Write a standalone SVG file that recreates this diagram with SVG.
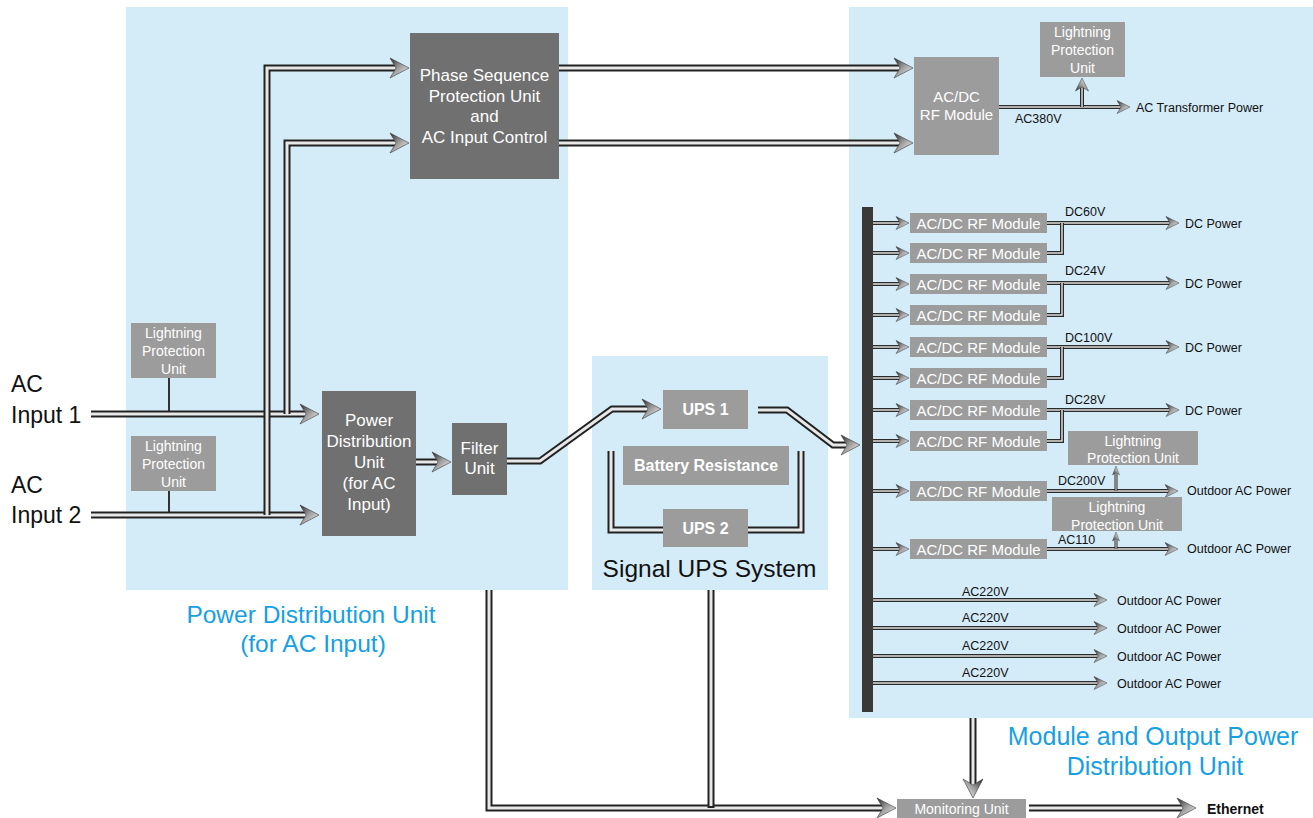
<svg xmlns="http://www.w3.org/2000/svg" width="1313" height="818" viewBox="0 0 1313 818">
<style>
.panel{fill:#d4ebf8}
.dk{fill:#707070}
.lt{fill:#9c9c9c}
text{font-family:"Liberation Sans",Arial,sans-serif}
.tw{fill:#fff;text-anchor:middle}
.tb{fill:#111}
.blue{fill:#16a0e3;text-anchor:middle;font-size:24.5px}
.pb{fill:none;stroke:#222;stroke-width:7}
.pw{fill:none;stroke:#e8e8e8;stroke-width:3}
.sb{fill:none;stroke:#2a2a2a;stroke-width:4}
.sw{fill:none;stroke:#dedede;stroke-width:1.5}
.xb{fill:none;stroke:#2a2a2a;stroke-width:3}
.xw{fill:none;stroke:#e0e0e0;stroke-width:1}
.ln{fill:none;stroke:#333;stroke-width:2}
.f14{font-size:14px}
.f15{font-size:15px}
.f17{font-size:17px}
.lab{font-size:12.5px;fill:#111}
</style>
<defs>
<linearGradient id="ag" x1="0" y1="0" x2="1" y2="1">
<stop offset="0" stop-color="#262626"/>
<stop offset="0.45" stop-color="#9a9a9a"/>
<stop offset="1" stop-color="#ffffff"/>
</linearGradient>
<marker id="ab" markerUnits="userSpaceOnUse" markerWidth="22" markerHeight="22" viewBox="-1 -11 22 22" refX="8" refY="0" orient="auto">
<path d="M0,-10 L19,0 L0,10 L6,0 Z" fill="url(#ag)" stroke="#3a3a3a" stroke-width="0.6"/>
</marker>
<marker id="as" markerUnits="userSpaceOnUse" markerWidth="16" markerHeight="16" viewBox="-1 -8 16 16" refX="6" refY="0" orient="auto">
<path d="M0,-6.5 L13,0 L0,6.5 L4,0 Z" fill="url(#ag)" stroke="#3a3a3a" stroke-width="0.5"/>
</marker>
<marker id="at" markerUnits="userSpaceOnUse" markerWidth="12" markerHeight="10" viewBox="-1 -5 12 10" refX="4" refY="0" orient="auto">
<path d="M0,-3.5 L9,0 L0,3.5 L2.5,0 Z" fill="url(#ag)" stroke="#3a3a3a" stroke-width="0.4"/>
</marker>
</defs>

<g id="panels">
<rect class="panel" x="126" y="7" width="442" height="583"/>
<rect class="panel" x="592" y="356" width="236" height="234"/>
<rect class="panel" x="849" y="7" width="464" height="711"/>
</g>

<g id="titles">
<text class="blue" x="311" y="623">Power Distribution Unit</text>
<text class="blue" x="313" y="652">(for AC Input)</text>
<text class="blue" x="1153" y="745" style="font-size:25px">Module and Output Power</text>
<text class="blue" x="1155" y="775" style="font-size:25px">Distribution Unit</text>
<text x="709.5" y="577" style="font-size:24.5px;text-anchor:middle" class="tb">Signal UPS System</text>
</g>

<g id="input1">
<text class="tb" x="11" y="392" style="font-size:23px">AC</text>
<text class="tb" x="11" y="423" style="font-size:23px">Input 1</text>
</g>
<g id="input2">
<text class="tb" x="11" y="493" style="font-size:23px">AC</text>
<text class="tb" x="11" y="523" style="font-size:23px">Input 2</text>
</g>

<g id="connectors">
<path class="ln" d="M169,378 V412"/>
<path class="ln" d="M169,491 V513"/>
<path class="pb" d="M91,414 H308"/><path class="pw" d="M91,414 H308" marker-end="url(#ab)"/>
<path class="pb" d="M91,515 H308"/><path class="pw" d="M91,515 H308" marker-end="url(#ab)"/>
<path class="pb" d="M267,515 V68 H398"/><path class="pw" d="M267,515 V68 H398" marker-end="url(#ab)"/>
<path class="pb" d="M287,414 V143 H398"/><path class="pw" d="M287,414 V143 H398" marker-end="url(#ab)"/>
<path class="pb" d="M559,68 H902"/><path class="pw" d="M559,68 H902" marker-end="url(#ab)"/>
<path class="pb" d="M559,143 H902"/><path class="pw" d="M559,143 H902" marker-end="url(#ab)"/>
<path class="pb" d="M416,462 H440"/><path class="pw" d="M416,462 H440" marker-end="url(#ab)"/>
<path class="pb" d="M507,461 H540 L612,409 H650"/><path class="pw" d="M507,461 H540 L612,409 H650" marker-end="url(#ab)"/>
<path class="pb" d="M758,410 H787 L833,445 H849"/><path class="pw" d="M758,410 H787 L833,445 H849" marker-end="url(#ab)"/>
<path class="pb" d="M611,451 V530 H663"/><path class="pw" d="M611,451 V530 H663"/>
<path class="pb" d="M748,530 H801 V451"/><path class="pw" d="M748,530 H801 V451"/>
<path class="pb" d="M489,590 V808 H885"/><path class="pw" d="M489,590 V808 H885" marker-end="url(#ab)"/>
<path class="pb" d="M711,590 V808"/><path class="pw" d="M711,590 V806"/>
<path class="pb" d="M973,718 V787"/><path class="pw" d="M973,718 V787" marker-end="url(#ab)"/>
<path class="pb" d="M1029,808 H1185"/><path class="pw" d="M1029,808 H1185" marker-end="url(#ab)"/>
<path class="sb" d="M999,107 H1123"/><path class="sw" d="M999,107 H1123" marker-end="url(#as)"/>
<path class="sb" d="M1082,107 V85"/><path class="sw" d="M1082,107 V85" marker-end="url(#as)"/>
<path class="sb" d="M873,223 H902"/><path class="sw" d="M873,223 H902" marker-end="url(#as)"/>
<path class="sb" d="M873,253 H902"/><path class="sw" d="M873,253 H902" marker-end="url(#as)"/>
<path class="sb" d="M873,284 H902"/><path class="sw" d="M873,284 H902" marker-end="url(#as)"/>
<path class="sb" d="M873,315 H902"/><path class="sw" d="M873,315 H902" marker-end="url(#as)"/>
<path class="sb" d="M873,347 H902"/><path class="sw" d="M873,347 H902" marker-end="url(#as)"/>
<path class="sb" d="M873,378 H902"/><path class="sw" d="M873,378 H902" marker-end="url(#as)"/>
<path class="sb" d="M873,410 H902"/><path class="sw" d="M873,410 H902" marker-end="url(#as)"/>
<path class="sb" d="M873,441 H902"/><path class="sw" d="M873,441 H902" marker-end="url(#as)"/>
<path class="sb" d="M873,491 H902"/><path class="sw" d="M873,491 H902" marker-end="url(#as)"/>
<path class="sb" d="M873,549 H902"/><path class="sw" d="M873,549 H902" marker-end="url(#as)"/>
<path class="sb" d="M1047,223 H1172"/><path class="sw" d="M1047,223 H1172" marker-end="url(#as)"/>
<path class="sb" d="M1047,253 H1062 V223"/><path class="sw" d="M1047,253 H1062 V223"/>
<path class="sb" d="M1047,283 H1172"/><path class="sw" d="M1047,283 H1172" marker-end="url(#as)"/>
<path class="sb" d="M1047,315 H1062 V283"/><path class="sw" d="M1047,315 H1062 V283"/>
<path class="sb" d="M1047,347 H1172"/><path class="sw" d="M1047,347 H1172" marker-end="url(#as)"/>
<path class="sb" d="M1047,378 H1062 V347"/><path class="sw" d="M1047,378 H1062 V347"/>
<path class="sb" d="M1047,410 H1172"/><path class="sw" d="M1047,410 H1172" marker-end="url(#as)"/>
<path class="sb" d="M1047,441 H1062 V410"/><path class="sw" d="M1047,441 H1062 V410"/>
<path class="sb" d="M1047,491 H1171"/><path class="sw" d="M1047,491 H1171" marker-end="url(#as)"/>
<path class="sb" d="M1047,549 H1171"/><path class="sw" d="M1047,549 H1171" marker-end="url(#as)"/>
<path class="xb" d="M1116,491 V471"/><path class="xw" d="M1116,491 V471" marker-end="url(#at)"/>
<path class="xb" d="M1116,549 V537"/><path class="xw" d="M1116,549 V537" marker-end="url(#at)"/>
<path class="sb" d="M873,600 H1100"/><path class="sw" d="M873,600 H1100" marker-end="url(#as)"/>
<path class="sb" d="M873,628 H1100"/><path class="sw" d="M873,628 H1100" marker-end="url(#as)"/>
<path class="sb" d="M873,656 H1100"/><path class="sw" d="M873,656 H1100" marker-end="url(#as)"/>
<path class="sb" d="M873,683 H1100"/><path class="sw" d="M873,683 H1100" marker-end="url(#as)"/>
</g>

<g id="lpu-left-1"><rect class="lt" x="131" y="323" width="85" height="55"/>
<text class="tw f14" x="173.5" y="338">Lightning</text><text class="tw f14" x="173.5" y="356">Protection</text><text class="tw f14" x="173.5" y="374">Unit</text></g>
<g id="lpu-left-2"><rect class="lt" x="131" y="436" width="85" height="55"/>
<text class="tw f14" x="173.5" y="451">Lightning</text><text class="tw f14" x="173.5" y="469">Protection</text><text class="tw f14" x="173.5" y="487">Unit</text></g>

<g id="phase"><rect class="dk" x="410" y="33" width="149" height="146"/>
<text class="tw f17" x="484.5" y="81">Phase Sequence</text>
<text class="tw f17" x="484.5" y="101.5">Protection Unit</text>
<text class="tw f17" x="484.5" y="122">and</text>
<text class="tw f17" x="484.5" y="142.5">AC Input Control</text></g>

<g id="pdu"><rect class="dk" x="322" y="391" width="94" height="145"/>
<text class="tw f17" x="369" y="426">Power</text>
<text class="tw f17" x="369" y="447">Distribution</text>
<text class="tw f17" x="369" y="468">Unit</text>
<text class="tw f17" x="369" y="489">(for AC</text>
<text class="tw f17" x="369" y="510">Input)</text></g>

<g id="filter"><rect class="dk" x="452" y="423" width="55" height="72"/>
<text class="tw f17" x="479.5" y="454">Filter</text>
<text class="tw f17" x="479.5" y="474">Unit</text></g>

<g id="ups1"><rect class="lt" x="663" y="390" width="85" height="39"/>
<text class="tw" x="705.5" y="415" style="font-size:16px;font-weight:bold">UPS 1</text></g>
<g id="battery"><rect class="lt" x="623" y="446" width="166" height="39"/>
<text class="tw" x="706" y="471" style="font-size:16px;font-weight:bold">Battery Resistance</text></g>
<g id="ups2"><rect class="lt" x="663" y="509" width="85" height="38"/>
<text class="tw" x="705.5" y="534" style="font-size:16px;font-weight:bold">UPS 2</text></g>

<g id="acdc-top"><rect class="lt" x="914" y="57" width="85" height="98"/>
<text class="tw f15" x="956.5" y="102">AC/DC</text>
<text class="tw f15" x="956.5" y="119.5">RF Module</text></g>

<g id="lpu-top"><rect class="lt" x="1040" y="22" width="85" height="55"/>
<text class="tw f14" x="1082.5" y="37">Lightning</text><text class="tw f14" x="1082.5" y="55">Protection</text><text class="tw f14" x="1082.5" y="73">Unit</text></g>
<g id="out-top">
<text class="lab" x="1015" y="123">AC380V</text>
<text class="lab" x="1136" y="111.5">AC Transformer Power</text>
</g>

<g id="bus"><rect x="862" y="207" width="11" height="505" fill="#3b3838"/></g>

<g id="modules">
<g id="m1"><rect class="lt" x="910" y="213" width="137" height="20"/><text class="tw f15" x="978.5" y="228.5">AC/DC RF Module</text></g>
<g id="m2"><rect class="lt" x="910" y="243" width="137" height="20"/><text class="tw f15" x="978.5" y="258.5">AC/DC RF Module</text></g>
<g id="m3"><rect class="lt" x="910" y="274" width="137" height="20"/><text class="tw f15" x="978.5" y="289.5">AC/DC RF Module</text></g>
<g id="m4"><rect class="lt" x="910" y="305" width="137" height="20"/><text class="tw f15" x="978.5" y="320.5">AC/DC RF Module</text></g>
<g id="m5"><rect class="lt" x="910" y="337" width="137" height="20"/><text class="tw f15" x="978.5" y="352.5">AC/DC RF Module</text></g>
<g id="m6"><rect class="lt" x="910" y="368" width="137" height="20"/><text class="tw f15" x="978.5" y="383.5">AC/DC RF Module</text></g>
<g id="m7"><rect class="lt" x="910" y="400" width="137" height="20"/><text class="tw f15" x="978.5" y="415.5">AC/DC RF Module</text></g>
<g id="m8"><rect class="lt" x="910" y="431" width="137" height="20"/><text class="tw f15" x="978.5" y="446.5">AC/DC RF Module</text></g>
<g id="m9"><rect class="lt" x="910" y="481" width="137" height="20"/><text class="tw f15" x="978.5" y="496.5">AC/DC RF Module</text></g>
<g id="m10"><rect class="lt" x="910" y="539" width="137" height="20"/><text class="tw f15" x="978.5" y="554.5">AC/DC RF Module</text></g>
</g>

<g id="lpu-right-1"><rect class="lt" x="1068" y="431" width="130" height="34"/>
<text class="tw f14" x="1133" y="446">Lightning</text><text class="tw f14" x="1133" y="463">Protection Unit</text></g>
<g id="lpu-right-2"><rect class="lt" x="1052" y="497" width="130" height="34"/>
<text class="tw f14" x="1117" y="512">Lightning</text><text class="tw f14" x="1117" y="530">Protection Unit</text></g>

<g id="out-labels">
<text class="lab" x="1065" y="215.5">DC60V</text><text class="lab" x="1185" y="227.5">DC Power</text>
<text class="lab" x="1065" y="274.5">DC24V</text><text class="lab" x="1185" y="287.5">DC Power</text>
<text class="lab" x="1065" y="341.5">DC100V</text><text class="lab" x="1185" y="351.5">DC Power</text>
<text class="lab" x="1065" y="403.5">DC28V</text><text class="lab" x="1185" y="414.5">DC Power</text>
<text class="lab" x="1058" y="484.5">DC200V</text><text class="lab" x="1187" y="495">Outdoor AC Power</text>
<text class="lab" x="1058" y="543.5">AC110</text><text class="lab" x="1187" y="553">Outdoor AC Power</text>
<text class="lab" x="962" y="595.5">AC220V</text><text class="lab" x="1117" y="604.5">Outdoor AC Power</text>
<text class="lab" x="962" y="622">AC220V</text><text class="lab" x="1117" y="632.5">Outdoor AC Power</text>
<text class="lab" x="962" y="650">AC220V</text><text class="lab" x="1117" y="660.5">Outdoor AC Power</text>
<text class="lab" x="962" y="676.5">AC220V</text><text class="lab" x="1117" y="687.5">Outdoor AC Power</text>
</g>

<g id="monitoring"><rect class="lt" x="897" y="799" width="129" height="19"/>
<text class="tw f14" x="961.5" y="814">Monitoring Unit</text></g>
<g id="ethernet"><text class="tb" x="1207" y="814" style="font-size:14px;font-weight:bold">Ethernet</text></g>
</svg>
